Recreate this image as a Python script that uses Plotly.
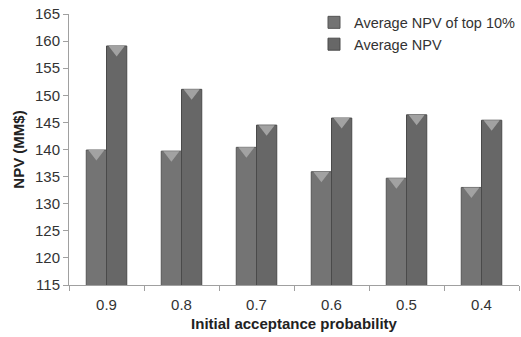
import plotly.graph_objects as go

categories = ["0.9", "0.8", "0.7", "0.6", "0.5", "0.4"]
avg_top10 = [139.9, 139.7, 140.4, 135.9, 134.7, 133.0]
avg_all = [159.1, 151.1, 144.5, 145.8, 146.4, 145.4]
series_names = ["Average NPV of top 10%", "Average NPV"]

font_family = "Liberation Sans, Arial, sans-serif"
bar_colors = ["#747474", "#676767"]
edge_colors = ["#555555", "#4a4a4a"]
cap_color = "#a2a2a2"
cap_drop = 0.65  # bevel cap sits just under the bar top (in axis units)

fig = go.Figure()
for i, (name, vals) in enumerate(zip(series_names, [avg_top10, avg_all])):
    fig.add_trace(go.Bar(
        x=categories, y=vals, name=name, offsetgroup=str(i),
        marker=dict(color=bar_colors[i], line=dict(color=edge_colors[i], width=1)),
    ))
for i, vals in enumerate([avg_top10, avg_all]):
    fig.add_trace(go.Scatter(
        x=categories, y=[v - cap_drop for v in vals], mode="markers",
        offsetgroup=str(i), showlegend=False, hoverinfo="skip",
        marker=dict(symbol="triangle-down", size=14, color=cap_color, line=dict(width=0)),
    ))

fig.update_layout(
    width=521, height=337,
    margin=dict(l=69, r=0, t=14, b=52),
    paper_bgcolor="white", plot_bgcolor="white",
    barmode="group", bargap=0.46, bargroupgap=0,
    scattermode="group", scattergap=0.46,
    font=dict(family=font_family, size=14, color="#333333"),
    showlegend=True,
    legend=dict(
        x=0.545, y=1.028, xanchor="left", yanchor="top",
        bgcolor="rgba(0,0,0,0)", font=dict(size=14.5, color="#333333"),
        itemwidth=30, tracegroupgap=0,
    ),
)
fig.update_yaxes(
    range=[115, 165], dtick=5, showgrid=False, zeroline=False,
    showline=True, linecolor="#a0a0a0", linewidth=1,
    ticks="outside", ticklen=5, tickcolor="#a0a0a0",
    tickfont=dict(size=15, color="#333333"),
    title=dict(text="<b>NPV (MM$)</b>", font=dict(size=15, color="#222222"), standoff=6),
)
fig.update_xaxes(
    type="category", showgrid=False, zeroline=False,
    showline=True, linecolor="#a0a0a0", linewidth=1,
    ticks="outside", ticklen=5, tickcolor="#a0a0a0", tickson="boundaries",
    ticklabelstandoff=6,
    tickfont=dict(size=15, color="#333333"),
    title=dict(text="<b>Initial acceptance probability</b>", font=dict(size=15, color="#222222"), standoff=6),
)

fig.write_html("out.html")
